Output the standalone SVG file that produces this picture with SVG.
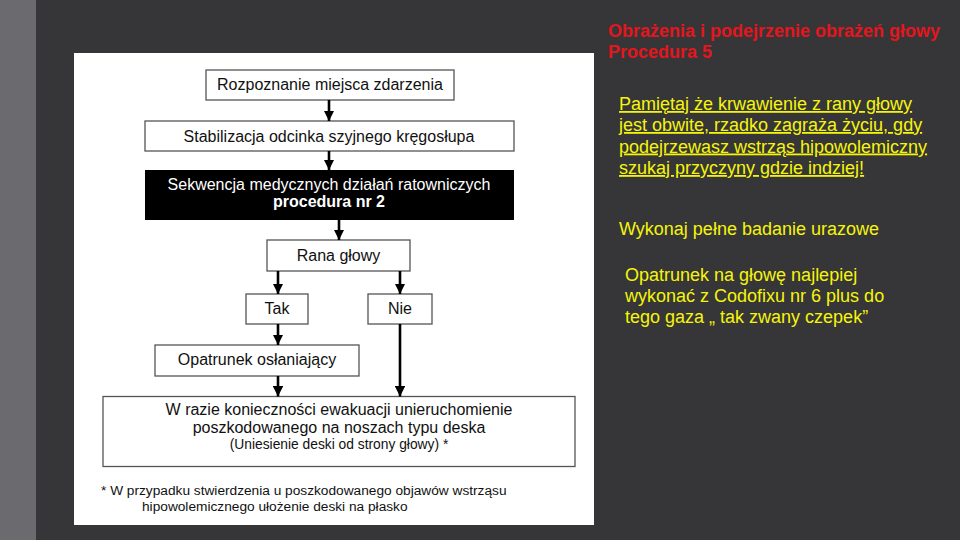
<svg xmlns="http://www.w3.org/2000/svg" width="960" height="540" viewBox="0 0 960 540">
<style>
.box{fill:#fff;stroke:#555;stroke-width:1.3}
.t{font-family:"Liberation Sans",Arial,sans-serif;font-size:16px;fill:#111;text-anchor:middle}
.s{font-size:13.8px}
.fn{font-family:"Liberation Sans",Arial,sans-serif;font-size:13.7px;fill:#111}
.conn line{stroke:#000;stroke-width:2.6}
.red{font-family:"Liberation Sans",Arial,sans-serif;font-size:18px;font-weight:bold;fill:#e3161d}
.yel{font-family:"Liberation Sans",Arial,sans-serif;font-size:18px;fill:#f5f50a}
</style>
<defs>
<marker id="ah" viewBox="0 0 10 10" refX="10" refY="5" markerWidth="4" markerHeight="4" markerUnits="strokeWidth" orient="auto">
<path d="M0,0 L10,5 L0,10 Z" fill="#000"/>
</marker>
</defs>
<rect width="960" height="540" fill="#363538"/>
<rect width="36" height="540" fill="#6b6a6f"/>
<rect x="74" y="53" width="520" height="472" fill="#fff"/>

<g id="n1"><rect class="box" x="206" y="70" width="248" height="30"/><text class="t" x="330" y="90">Rozpoznanie miejsca zdarzenia</text></g>
<g id="n2"><rect class="box" x="145" y="121" width="369" height="30"/><text class="t" x="329" y="141.5">Stabilizacja odcinka szyjnego kręgosłupa</text></g>
<g id="n3"><rect x="145" y="170" width="369" height="50" fill="#000"/><text class="t" x="329" y="190" style="fill:#fff">Sekwencja medycznych działań ratowniczych</text><text class="t" x="329" y="207" style="fill:#fff;font-weight:bold">procedura nr 2</text></g>
<g id="n4"><rect class="box" x="267" y="240" width="143" height="31"/><text class="t" x="338.5" y="261">Rana głowy</text></g>
<g id="n5"><rect class="box" x="246" y="294" width="62" height="30"/><text class="t" x="277" y="314">Tak</text></g>
<g id="n6"><rect class="box" x="368" y="294" width="64" height="30"/><text class="t" x="400" y="314">Nie</text></g>
<g id="n7"><rect class="box" x="155" y="345" width="204" height="31"/><text class="t" x="257" y="365">Opatrunek osłaniający</text></g>
<g id="n8"><rect class="box" x="103" y="396.5" width="472" height="70"/>
<text class="t" x="339" y="415">W razie konieczności ewakuacji unieruchomienie</text>
<text class="t" x="339" y="433">poszkodowanego na noszach typu deska</text>
<text class="t s" x="339" y="449">(Uniesienie deski od strony głowy) *</text></g>
<g id="note"><text class="fn" x="101" y="495">* W przypadku stwierdzenia u poszkodowanego objawów wstrząsu</text>
<text class="fn" x="142" y="511">hipowolemicznego ułożenie deski na płasko</text></g>

<g class="conn" id="connectors">
<line x1="329" y1="100" x2="329" y2="121" marker-end="url(#ah)"/>
<line x1="329" y1="151" x2="329" y2="170" marker-end="url(#ah)"/>
<line x1="339" y1="220" x2="339" y2="240" marker-end="url(#ah)"/>
<line x1="278" y1="271" x2="278" y2="294" marker-end="url(#ah)"/>
<line x1="400" y1="271" x2="400" y2="294" marker-end="url(#ah)"/>
<line x1="278" y1="324" x2="278" y2="345" marker-end="url(#ah)"/>
<line x1="278" y1="376" x2="278" y2="396.5" marker-end="url(#ah)"/>
<line x1="400" y1="324" x2="400" y2="396.5" marker-end="url(#ah)"/>
</g>

<g id="side">
<text class="red" x="608" y="37">Obrażenia i podejrzenie obrażeń głowy</text>
<text class="red" x="608" y="58">Procedura 5</text>
<text class="yel" x="619" y="110" text-decoration="underline">Pamiętaj że krwawienie z rany głowy</text>
<text class="yel" x="619" y="131" text-decoration="underline">jest obwite, rzadko zagraża życiu, gdy</text>
<text class="yel" x="619" y="152.5" text-decoration="underline">podejrzewasz wstrząs hipowolemiczny</text>
<text class="yel" x="619" y="174" text-decoration="underline">szukaj przyczyny gdzie indziej!</text>
<text class="yel" x="619" y="235">Wykonaj pełne badanie urazowe</text>
<text class="yel" x="625" y="281">Opatrunek na głowę najlepiej</text>
<text class="yel" x="625" y="302">wykonać z Codofixu nr 6 plus do</text>
<text class="yel" x="625" y="323">tego gaza „ tak zwany czepek”</text>
</g>
</svg>
